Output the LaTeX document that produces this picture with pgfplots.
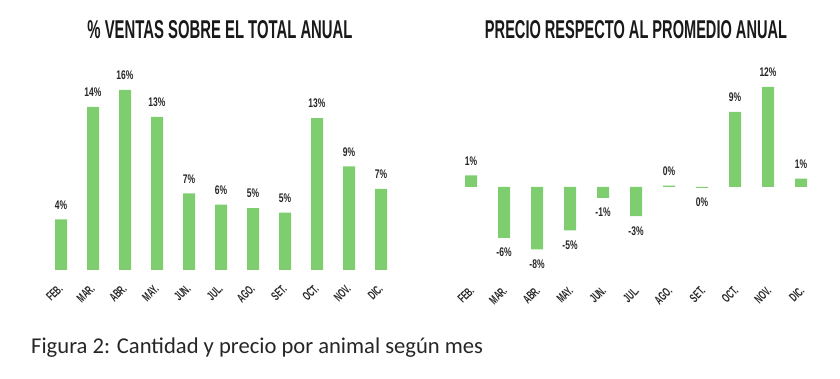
\documentclass[border=0pt]{standalone}
\usepackage{pgfplots}
\pgfplotsset{compat=1.18}
\usepackage{fontspec}
\setmainfont{Liberation Sans}
\newfontfamily\condb[FakeStretch=0.68]{Liberation Sans}
\newfontfamily\condc[FakeStretch=0.6]{Liberation Sans}
\newfontfamily\capfont{Carlito}
\definecolor{barg}{RGB}{126,206,112}
\begin{document}
\begin{tikzpicture}[x=1pt,y=1pt]
\path[use as bounding box] (0,0) rectangle (840,379);
\pgfplotsset{
  mybars/.style={
    scale only axis, clip=false,
    xmin=-0.5, xmax=10.5,
    axis line style={draw=none},
    tick style={draw=none},
    ytick=\empty,
    xtick={0,...,10},
    xticklabels={FEB.,MAR.,ABR.,MAY.,JUN.,JUL.,AGO.,SET.,OCT.,NOV.,DIC.},
    xticklabel style={rotate=45, anchor=north east, inner sep=0pt, font=\condc\bfseries\fontsize{12.5}{12.5}\selectfont, text=black!85},
    ybar, bar width=12pt, bar shift=0pt,
    point meta=explicit symbolic,
    nodes near coords={\pgfplotspointmeta},
    every node near coord/.append style={font=\condb\bfseries\fontsize{12.5}{12.5}\selectfont, text=black!85, inner xsep=0pt, inner ysep=10pt},
  }
}
\begin{axis}[mybars, at={(45pt,109pt)}, anchor=south west, width=352pt, height=191.25pt,
  ymin=0, ymax=17,
  xticklabel style={xshift=-9pt, yshift=-4pt}]
\addplot[fill=barg, draw=none, nodes near coords style={anchor=south}] coordinates {
(0,4.5) [4\%]
(1,14.5) [14\%]
(2,16.0) [16\%]
(3,13.6) [13\%]
(4,6.8) [7\%]
(5,5.8) [6\%]
(6,5.5) [5\%]
(7,5.1) [5\%]
(8,13.5) [13\%]
(9,9.2) [9\%]
(10,7.2) [7\%]
};
\end{axis}
\begin{axis}[mybars, at={(454.5pt,117pt)}, anchor=south west, width=363pt, height=183.33pt,
  ymin=-9, ymax=13,
  xticklabel style={xshift=-15pt, yshift=-12pt}]
\addplot[fill=barg, draw=none, nodes near coords style={anchor=south}] coordinates {
(0,1.4) [1\%]
(6,0.15) [0\%]
(8,9.0) [9\%]
(9,12.0) [12\%]
(10,1.0) [1\%]
};
\addplot[fill=barg, draw=none, nodes near coords style={anchor=north}] coordinates {
(1,-6.1) [-6\%]
(2,-7.5) [-8\%]
(3,-5.2) [-5\%]
(4,-1.3) [-1\%]
(5,-3.5) [-3\%]
(7,-0.1) [0\%]
};
\end{axis}
\node[inner sep=0pt, text=black!90] at (220,349) {\resizebox{265pt}{18pt}{\condb\bfseries \% VENTAS SOBRE EL TOTAL ANUAL}};
\node[inner sep=0pt, text=black!90] at (636,349) {\resizebox{302pt}{18pt}{\condb\bfseries PRECIO RESPECTO AL PROMEDIO ANUAL}};
\node[anchor=base west, inner sep=0pt, text=black!85] at (31,25) {\capfont\fontsize{22.6}{22.6}\selectfont Figura 2: Cantidad y precio por animal según mes};
\end{tikzpicture}
\end{document}
